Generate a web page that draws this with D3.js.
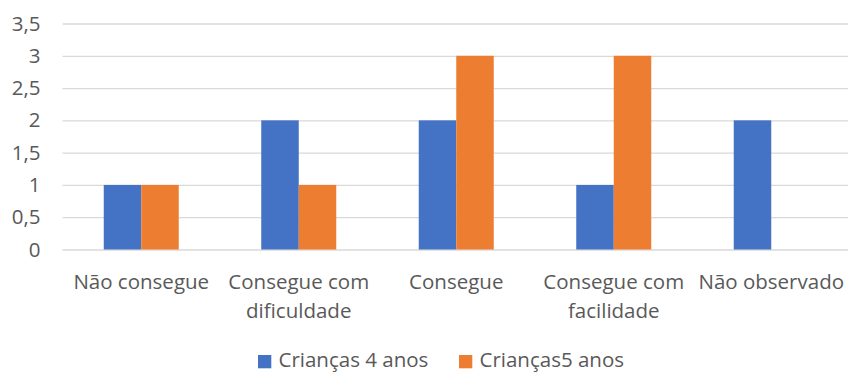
<!DOCTYPE html>
<html><head><meta charset="utf-8">
<script src="https://cdn.jsdelivr.net/npm/d3@7"></script>
<style>body{margin:0;background:#fff}svg{display:block}text{font-family:"Open Sans",sans-serif;fill:#595959}</style>
</head><body><svg id="c" width="848" height="372"></svg>
<script>
const categories = [["Não consegue"],["Consegue com","dificuldade"],["Consegue"],["Consegue com","facilidade"],["Não observado"]];
const seriesNames = ["Crianças 4 anos","Crianças5 anos"];
const values4 = [1,2,2,1,2];
const values5 = [1,1,3,3,0];
const yTicks = [0,0.5,1,1.5,2,2.5,3,3.5];
const colors = ["#4472C4","#ED7D31"];

(function(){
const svg = d3.select("#c");
const pl = 62.5, pr = 850, pt = 23.5, pb = 249.5;
const fs = 20.5;
const x = d3.scaleBand().domain(d3.range(categories.length)).range([pl,pr]);
const inner = d3.scaleBand().domain([0,1]).range([0,75]);
const y = d3.scaleLinear().domain([0,3.5]).range([pb,pt]);
const fmt = v => String(v).replace(".",",");

const yAxis = d3.axisLeft(y).tickValues(yTicks).tickSize(-(pr-pl)).tickFormat(fmt).tickPadding(22);
const gy = svg.append("g").attr("transform",`translate(${pl},0)`).call(yAxis);
gy.select(".domain").remove();
gy.selectAll(".tick line").attr("stroke","#D9D9D9").attr("stroke-width",1.3);
gy.selectAll(".tick text").attr("font-size",fs).style("fill","#595959").attr("font-family","Open Sans");

const data = [values4, values5];
data.forEach((vals,si)=>{
  svg.append("g").selectAll("rect").data(vals).join("rect")
    .attr("x",(d,i)=>x(i)+(x.bandwidth()-75)/2+inner(si))
    .attr("width",inner.bandwidth())
    .attr("y",d=>y(d)).attr("height",d=>y(0)-y(d))
    .attr("fill",colors[si]);
});

const gx = svg.append("g");
categories.forEach((lines,i)=>{
  const t = gx.append("text").attr("text-anchor","middle").attr("font-size",fs)
    .attr("x",x(i)+x.bandwidth()/2).attr("y",289);
  lines.forEach((l,j)=>t.append("tspan").attr("x",x(i)+x.bandwidth()/2).attr("dy",j?29:0).text(l));
});

const lg = svg.append("g");
const lx = [258,459];
seriesNames.forEach((n,i)=>{
  lg.append("rect").attr("x",lx[i]).attr("y",355).attr("width",13.3).attr("height",13.3).attr("fill",colors[i]);
  lg.append("text").attr("x",lx[i]+20.5).attr("y",367).attr("font-size",fs).text(n);
});
})();
</script></body></html>
